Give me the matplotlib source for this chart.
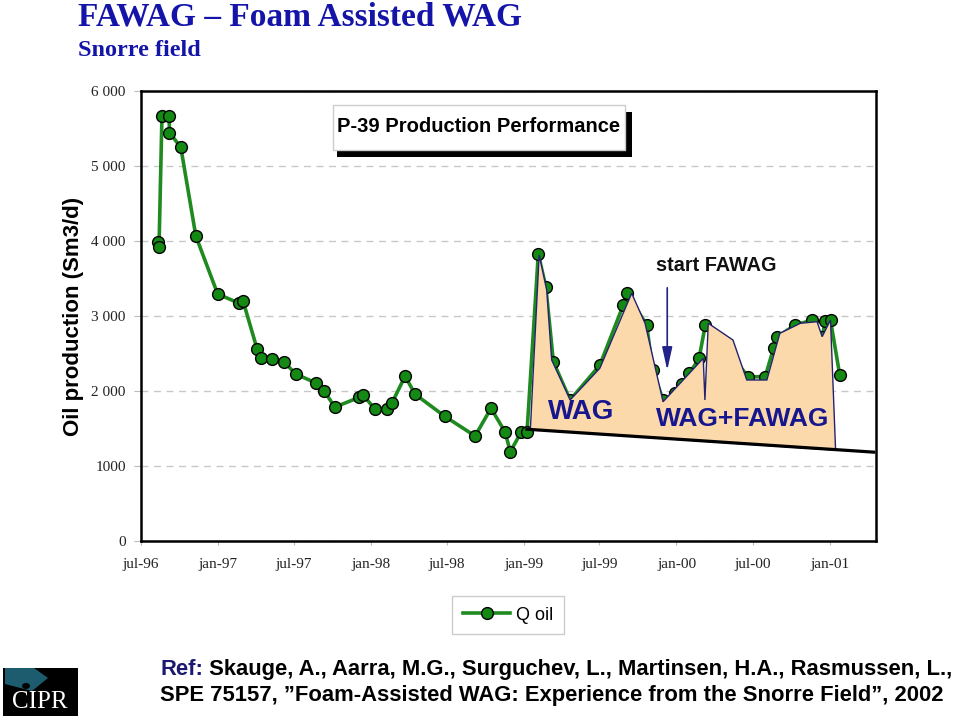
import matplotlib
matplotlib.use("Agg")
import matplotlib.pyplot as plt
import matplotlib.dates as mdates
import pandas as pd
from matplotlib.patches import Rectangle, Polygon, Circle

plt.rcParams['font.family'] = ['Liberation Sans', 'DejaVu Sans']

# P-39 oil rate
dates = ['1996-08-11', '1996-08-13', '1996-08-20', '1996-09-06', '1996-09-07',
         '1996-10-04', '1996-11-09', '1996-12-31', '1997-02-20', '1997-03-02',
         '1997-04-04', '1997-04-13', '1997-05-09', '1997-06-07', '1997-07-06',
         '1997-08-24', '1997-09-11', '1997-10-07', '1997-12-04', '1997-12-14',
         '1998-01-11', '1998-02-09', '1998-02-20', '1998-03-24', '1998-04-16',
         '1998-06-26', '1998-09-07', '1998-10-15', '1998-11-18', '1998-11-30',
         '1998-12-26', '1999-01-09', '1999-02-05', '1999-02-23', '1999-03-13',
         '1999-04-22', '1999-07-02', '1999-08-27', '1999-09-04', '1999-10-22',
         '1999-11-05', '1999-11-30', '1999-12-28', '2000-01-15', '2000-02-01',
         '2000-02-24', '2000-03-10', '2000-06-21', '2000-07-31', '2000-08-20',
         '2000-08-29', '2000-10-11', '2000-11-20', '2000-12-14', '2000-12-22',
         '2001-01-03', '2001-01-25']
q_oil = [3990, 3925, 5665, 5665, 5445,
         5250, 4065, 3295, 3170, 3195,
         2565, 2445, 2425, 2390, 2225,
         2105, 2005, 1785, 1915, 1945,
         1755, 1760, 1835, 2200, 1960,
         1665, 1400, 1770, 1450, 1190,
         1450, 1450, 3825, 3390, 2390,
         1880, 2345, 3145, 3305, 2880,
         2280, 1880, 1970, 2095, 2235,
         2435, 2880, 2190, 2190, 2570,
         2725, 2880, 2945, 2725, 2935,
         2945, 2215]

# shaded WAG / FAWAG area (outline drawn on the slide)
area_dates = ['1999-01-17', '1999-02-07', '1999-02-25', '1999-03-09', '1999-04-22',
              '1999-07-02', '1999-09-16', '1999-10-18', '1999-11-30', '2000-03-05',
              '2000-03-09', '2000-03-17', '2000-05-15', '2000-06-17', '2000-08-04',
              '2000-09-04', '2000-10-23', '2000-12-02', '2000-12-14', '2001-01-03',
              '2001-01-15', '2001-01-15']
area_vals = [1486, 3813, 3347, 2413, 1880,
             2303, 3303, 2903, 1857, 2436,
             1880, 2903, 2680, 2147, 2147,
             2769, 2903, 2924, 2724, 2947,
             1236, 1212]

baseline_dates = ['1999-01-09', '2001-04-16']
baseline_vals = [1490, 1185]

arrow_date = '1999-12-10'
arrow_from, arrow_to = 3413, 2240

tick_dates = ['1996-07-01', '1997-01-01', '1997-07-01', '1998-01-01', '1998-07-01',
              '1999-01-01', '1999-07-01', '2000-01-01', '2000-07-01', '2001-01-01']
tick_labels = ['jul-96', 'jan-97', 'jul-97', 'jan-98', 'jul-98',
               'jan-99', 'jul-99', 'jan-00', 'jul-00', 'jan-01']
y_ticks = [0, 1000, 2000, 3000, 4000, 5000, 6000]
y_labels = ['0', '1000', '2 000', '3 000', '4 000', '5 000', '6 000']

navy = '#16168f'
green = '#1f8a1f'


def px(x, y):
    return x / 960, 1 - y / 720


fig = plt.figure(figsize=(9.6, 7.2), dpi=100)
ax = fig.add_axes([0.1469, 0.2486, 0.7653, 0.625])

d = pd.to_datetime(dates)
line, = ax.plot(d, q_oil, color=green, lw=2.6, marker='o', ms=8.5,
                mfc='#148a14', mec='black', mew=1.0, zorder=3, label='Q oil')

ad = mdates.date2num(pd.to_datetime(area_dates))
poly = Polygon(list(zip(ad, area_vals)), closed=True, facecolor='#fcd9aa',
               edgecolor='#222270', lw=1.0, zorder=4)
ax.add_patch(poly)

ax.plot(pd.to_datetime(baseline_dates), baseline_vals, color='black', lw=2.3, zorder=5)

ax.annotate('', xy=(pd.Timestamp(arrow_date), arrow_to),
            xytext=(pd.Timestamp(arrow_date), arrow_from),
            arrowprops=dict(arrowstyle='-|>,head_length=1.0,head_width=0.22',
                            color='#22228a', lw=1.2, mutation_scale=14), zorder=6)

ax.text(pd.Timestamp('2000-04-04'), 3680, 'start FAWAG', fontsize=14.3,
        fontweight='bold', color='#111111', ha='center', va='center', zorder=6)
ax.text(pd.Timestamp('1999-05-18'), 1720, 'WAG', fontsize=20, fontweight='bold',
        color=navy, ha='center', va='center', zorder=6)
ax.text(pd.Timestamp('2000-06-08'), 1627, 'WAG+FAWAG', fontsize=19, fontweight='bold',
        color=navy, ha='center', va='center', zorder=6)

ax.set_xlim(pd.Timestamp('1996-07-01'), pd.Timestamp('2001-04-21'))
ax.set_ylim(0, 6000)
ax.set_xticks(pd.to_datetime(tick_dates))
ax.set_xticklabels(tick_labels, fontfamily='Liberation Serif', fontsize=11, color='#222222')
ax.set_yticks(y_ticks)
ax.set_yticklabels(y_labels, fontfamily='Liberation Serif', fontsize=11, color='#222222')
ax.tick_params(axis='x', length=3, color='#bbbbbb', pad=9)
ax.tick_params(axis='y', length=5, color='#bbbbbb', pad=6)
ax.grid(axis='y', color='#c8c8c8', ls=(0, (5, 4)), lw=1.0)
ax.set_axisbelow(True)
for s in ax.spines.values():
    s.set_linewidth(1.8)
    s.set_color('black')

ax.legend(handles=[line], loc='center', bbox_to_anchor=px(508, 615),
          bbox_transform=fig.transFigure, fancybox=False, edgecolor='#cccccc',
          framealpha=1, fontsize=13, handlelength=2.6, handletextpad=0.3,
          borderpad=0.6)

# titles
fig.text(*px(78, 25), 'FAWAG \u2013 Foam Assisted WAG', fontfamily='Liberation Serif',
         fontsize=24, fontweight='bold', color='#1414a8', va='baseline')
fig.text(*px(78, 56.5), 'Snorre field', fontfamily='Liberation Serif',
         fontsize=17.5, fontweight='bold', color='#1414a8', va='baseline')
fig.text(*px(74, 316), 'Oil production (Sm3/d)', rotation=90, fontsize=16,
         fontweight='bold', ha='center', va='center')

# chart title box with shadow
fig.add_artist(Rectangle(px(337, 157), 295 / 960, 45 / 720, transform=fig.transFigure,
                         facecolor='black', edgecolor='none'))
fig.add_artist(Rectangle(px(333, 150), 292 / 960, 45 / 720, transform=fig.transFigure,
                         facecolor='white', edgecolor='#cccccc', lw=1))
fig.text(*px(479, 126), 'P-39 Production Performance', fontsize=14.5,
         fontweight='bold', ha='center', va='center')

# reference
t1 = fig.text(*px(160, 675), 'Ref:', fontsize=15.8, fontweight='bold', color='#1a1a70',
              va='baseline')
ax.annotate(' Skauge, A., Aarra, M.G., Surguchev, L., Martinsen, H.A., Rasmussen, L.,',
            xy=(1, 0), xycoords=t1, va='bottom', fontsize=15.8, fontweight='bold',
            color='black', annotation_clip=False)
fig.text(*px(160, 701), 'SPE 75157, \u201dFoam-Assisted WAG: Experience from the Snorre Field\u201d, 2002',
         fontsize=15.8, fontweight='bold', color='black', va='baseline')

# CIPR logo
fig.add_artist(Rectangle(px(3, 716), 75 / 960, 48 / 720, transform=fig.transFigure,
                         facecolor='black', edgecolor='none'))
fig.add_artist(Polygon([px(5, 668), px(34, 668), px(48, 678), px(32, 691), px(5, 684)],
                       closed=True, transform=fig.transFigure, facecolor='#1d5c6e',
                       edgecolor='none'))
fig.add_artist(Circle(px(26, 686), 4 / 960, transform=fig.transFigure,
                      facecolor='black', edgecolor='none'))
fig.text(*px(40, 708), 'CIPR', fontfamily='Liberation Serif', fontsize=18,
         color='white', ha='center', va='baseline')

fig.savefig('out.png', dpi=100)
